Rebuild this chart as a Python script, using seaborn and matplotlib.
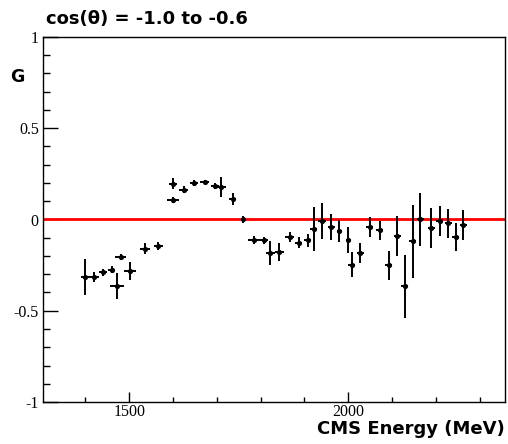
import numpy as np
import pandas as pd
import matplotlib
matplotlib.use("Agg")
import matplotlib.pyplot as plt
import seaborn as sns
from matplotlib.ticker import MultipleLocator

energy = [1400, 1420, 1440, 1460, 1480, 1472, 1502, 1536, 1566, 1600, 1600,
          1624, 1648, 1672, 1696, 1710, 1736, 1760, 1784, 1807, 1822, 1843,
          1866, 1887, 1908, 1921, 1940, 1961, 1980, 2000, 2008, 2027, 2049,
          2072, 2092, 2112, 2129, 2147, 2165, 2190, 2209, 2228, 2245, 2263]
g_value = [-0.315, -0.315, -0.29, -0.275, -0.205, -0.363, -0.284, -0.16, -0.146, 0.195, 0.108,
           0.164, 0.20, 0.205, 0.183, 0.177, 0.112, 0.0, -0.113, -0.114, -0.183, -0.177,
           -0.096, -0.127, -0.115, -0.054, -0.008, -0.04, -0.063, -0.113, -0.247, -0.183, -0.04,
           -0.06, -0.25, -0.09, -0.367, -0.118, 0.0, -0.048, -0.008, -0.02, -0.096, -0.03]
g_err = [0.10, 0.03, 0.02, 0.02, 0.015, 0.07, 0.05, 0.03, 0.02, 0.03, 0.015,
         0.02, 0.015, 0.01, 0.015, 0.055, 0.035, 0.02, 0.02, 0.02, 0.067, 0.05,
         0.03, 0.03, 0.035, 0.12, 0.10, 0.07, 0.06, 0.07, 0.07, 0.055, 0.055,
         0.05, 0.08, 0.11, 0.17, 0.20, 0.145, 0.11, 0.08, 0.08, 0.075, 0.08]
e_err = [10, 10, 10, 8, 12, 15, 13, 12, 10, 10, 14,
         10, 10, 10, 10, 10, 8, 5, 12, 10, 10, 10,
         10, 8, 8, 8, 10, 8, 6, 6, 8, 8, 8,
         8, 8, 8, 8, 8, 8, 8, 8, 8, 8, 8]

title_text = "cos(\u03b8) = -1.0 to -0.6"
x_label = "CMS Energy (MeV)"
y_label = "G"

df = pd.DataFrame({"energy": energy, "G": g_value, "gerr": g_err, "eerr": e_err})

sns.set_style("ticks")
plt.rcParams['font.family'] = ['DejaVu Sans']
plt.rcParams['text.color'] = 'black'
plt.rcParams['xtick.color'] = 'black'
plt.rcParams['ytick.color'] = 'black'

fig = plt.figure(figsize=(5.08, 4.44), dpi=100)
ax = fig.add_axes([43/508, 1-402/444, (505-43)/508, (402-37)/444])

ax.axhline(0, color="red", lw=2, zorder=1)
ax.errorbar(df["energy"], df["G"], yerr=df["gerr"], xerr=df["eerr"],
            fmt="none", ecolor="black", elinewidth=1.4, capsize=0, zorder=2)
sns.scatterplot(data=df, x="energy", y="G", ax=ax, color="black", s=14,
                edgecolor="black", linewidth=0, zorder=3, legend=False)

ax.set_xlim(1303, 2358)
ax.set_ylim(-1, 1)
ax.xaxis.set_major_locator(MultipleLocator(500))
ax.xaxis.set_minor_locator(MultipleLocator(100))
ax.yaxis.set_minor_locator(MultipleLocator(0.1))
ax.set_yticks([-1, -0.5, 0, 0.5, 1])
ax.set_yticklabels(["-1", "-0.5", "0", "0.5", "1"])

serif = ['Liberation Serif', 'DejaVu Serif']
for lab in ax.get_xticklabels() + ax.get_yticklabels():
    lab.set_family(serif)
    lab.set_fontsize(11.5)
    lab.set_color("black")

ax.tick_params(axis="x", which="major", direction="in", length=7, width=1, pad=1.5)
ax.tick_params(axis="x", which="minor", direction="in", length=3.5, width=1)
ax.tick_params(axis="y", which="major", direction="in", length=11, width=1, pad=3)
ax.tick_params(axis="y", which="minor", direction="in", length=5, width=1)
for sp in ax.spines.values():
    sp.set_visible(True)
    sp.set_color("black")
    sp.set_linewidth(1)
ax.set_xlabel("")
ax.set_ylabel("")

fig.text(46/508, 1-19/444, title_text, fontsize=13, fontweight="bold",
         ha="left", va="center", color="black")
fig.text(505/508, 1-420/444, x_label, fontsize=13, fontweight="bold",
         ha="right", va="top", color="black")
fig.text(17/508, 1-77/444, y_label, fontsize=12.5, fontweight="bold",
         ha="center", va="center", color="black")

fig.savefig("out.png", dpi=100)
